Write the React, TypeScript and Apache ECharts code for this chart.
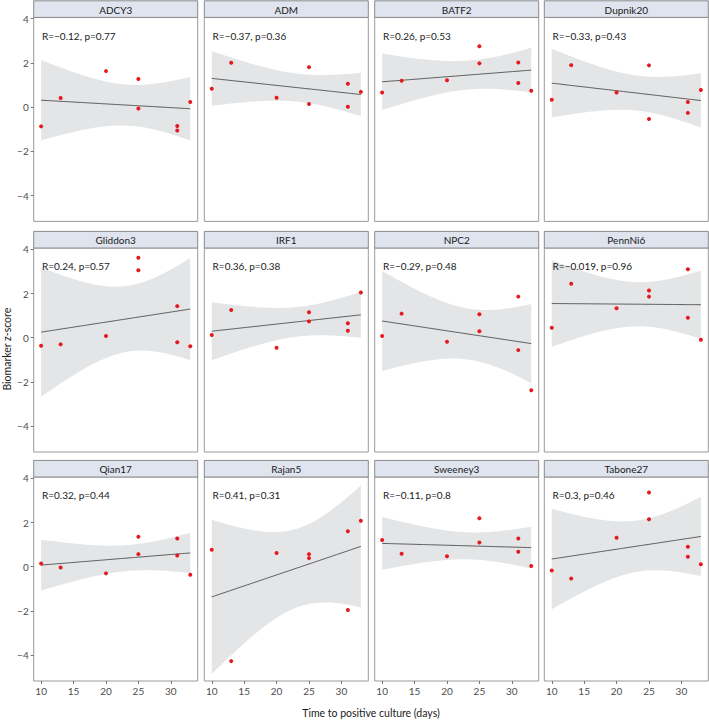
import React, { useEffect, useRef } from "react";
import * as echarts from "echarts";

const panelNames = ["ADCY3", "ADM", "BATF2", "Dupnik20", "Gliddon3", "IRF1", "NPC2", "PennNi6", "Qian17", "Rajan5", "Sweeney3", "Tabone27"];
const days = [10, 13, 20, 25, 25, 31, 31, 33];

const adcy3 = [-0.87, 0.41, 1.63, 1.27, -0.06, -0.85, -1.06, 0.23];
const adm = [0.83, 2.01, 0.42, 1.81, 0.14, 1.06, 0.02, 0.69];
const batf2 = [0.66, 1.19, 1.22, 2.75, 1.98, 2.02, 1.09, 0.74];
const dupnik20 = [0.33, 1.9, 0.66, 1.89, -0.54, 0.23, -0.26, 0.78];
const gliddon3 = [-0.36, -0.3, 0.08, 3.62, 3.05, 1.43, -0.2, -0.39];
const irf1 = [0.12, 1.25, -0.45, 1.15, 0.74, 0.66, 0.32, 2.05];
const npc2 = [0.08, 1.09, -0.18, 1.06, 0.29, 1.86, -0.56, -2.38];
const pennNi6 = [0.45, 2.44, 1.33, 2.14, 1.86, 3.1, 0.9, -0.09];
const qian17 = [0.15, -0.03, -0.3, 1.36, 0.57, 1.28, 0.51, -0.36];
const rajan5 = [0.77, -4.27, 0.62, 0.57, 0.39, 1.61, -1.96, 2.08];
const sweeney3 = [1.21, 0.59, 0.47, 2.19, 1.1, 1.28, 0.68, 0.03];
const tabone27 = [-0.17, -0.53, 1.31, 3.36, 2.15, 0.9, 0.45, 0.11];

const panelValues = [adcy3, adm, batf2, dupnik20, gliddon3, irf1, npc2, pennNi6, qian17, rajan5, sweeney3, tabone27];

const corrLabels = [
  "R=\u22120.12, p=0.77",
  "R=\u22120.37, p=0.36",
  "R=0.26, p=0.53",
  "R=\u22120.33, p=0.43",
  "R=0.24, p=0.57",
  "R=0.36, p=0.38",
  "R=\u22120.29, p=0.48",
  "R=\u22120.019, p=0.96",
  "R=0.32, p=0.44",
  "R=0.41, p=0.31",
  "R=\u22120.11, p=0.8",
  "R=0.3, p=0.46",
];

const yTicks = [-4, -2, 0, 2, 4];
const xTicks = [10, 15, 20, 25, 30];

// linear model fit with 95% confidence band (as geom_smooth(method = "lm"))
function lmFit(xs: number[], ys: number[]) {
  const n = xs.length;
  const mx = xs.reduce((a, b) => a + b, 0) / n;
  const my = ys.reduce((a, b) => a + b, 0) / n;
  let sxx = 0, sxy = 0;
  for (let i = 0; i < n; i++) {
    sxx += (xs[i] - mx) ** 2;
    sxy += (xs[i] - mx) * (ys[i] - my);
  }
  const b = sxy / sxx;
  const a = my - b * mx;
  let sse = 0;
  for (let i = 0; i < n; i++) sse += (ys[i] - a - b * xs[i]) ** 2;
  const s = Math.sqrt(sse / (n - 2));
  const t = 2.446912; // t(0.975, df = 6)
  const x0 = Math.min(...xs), x1 = Math.max(...xs);
  const upper: number[][] = [];
  const lower: number[][] = [];
  const line: number[][] = [];
  const steps = 80;
  for (let k = 0; k < steps; k++) {
    const x = x0 + ((x1 - x0) * k) / (steps - 1);
    const yh = a + b * x;
    const se = s * Math.sqrt(1 / n + (x - mx) ** 2 / sxx);
    upper.push([x, yh + t * se]);
    lower.push([x, yh - t * se]);
    line.push([x, yh]);
  }
  return { upper, lower, line };
}

const FONT = "Lato";
const colLefts = [33.7, 204.3, 374.7, 544.3];
const rowTops = [17.4, 248, 477];
const PW = 164;
const PH = 204;
const STRIP_H = 16.6;
const Y_MIN = -5.17;
const Y_MAX = 4.06;
const X_MIN = 8.85;
const X_MAX = 34.15;

const minus = (v: number) => String(v).replace("-", "\u2212");

export default function App() {
  const ref = useRef<HTMLDivElement>(null);
  useEffect(() => {
    if (!ref.current) return;
    const chart = echarts.init(ref.current, null, { renderer: "svg" });
    const grids: any[] = [];
    const xAxes: any[] = [];
    const yAxes: any[] = [];
    const series: any[] = [];
    const graphics: any[] = [];

    panelNames.forEach((name, i) => {
      const r = Math.floor(i / 4);
      const c = i % 4;
      const left = colLefts[c];
      const top = rowTops[r];
      grids.push({
        left, top, width: PW, height: PH,
        show: true, borderColor: "#9a9a9a", borderWidth: 1, backgroundColor: "#ffffff",
        containLabel: false,
      });
      const showX = r === 2;
      const showY = c === 0;
      xAxes.push({
        gridIndex: i, type: "value", min: X_MIN, max: X_MAX, position: "bottom",
        axisLine: { show: false, onZero: false },
        splitLine: { show: false },
        axisTick: { show: showX, length: 3, customValues: xTicks, lineStyle: { color: "#777" } },
        axisLabel: { show: showX, customValues: xTicks, margin: 5, fontFamily: FONT, fontSize: 10, color: "#4d4d4d" },
      });
      yAxes.push({
        gridIndex: i, type: "value", min: Y_MIN, max: Y_MAX, position: "left",
        axisLine: { show: false, onZero: false },
        splitLine: { show: false },
        axisTick: { show: showY, length: 3, customValues: yTicks, lineStyle: { color: "#777" } },
        axisLabel: {
          show: showY, customValues: yTicks, margin: 5, fontFamily: FONT, fontSize: 10, color: "#4d4d4d",
          formatter: (v: number) => minus(v),
        },
      });
      const vals = panelValues[i];
      const fit = lmFit(days, vals);
      series.push({
        type: "custom", xAxisIndex: i, yAxisIndex: i, silent: true, z: 1,
        data: [[days[0], vals[0]]],
        renderItem: (_p: any, api: any) => {
          const pts = fit.upper.map((p) => api.coord(p)).concat(fit.lower.slice().reverse().map((p) => api.coord(p)));
          return { type: "polygon", shape: { points: pts }, style: { fill: "#e4e5e7", stroke: "none" } };
        },
      });
      series.push({
        type: "line", xAxisIndex: i, yAxisIndex: i, silent: true, z: 2,
        data: fit.line, symbol: "none",
        lineStyle: { color: "#3a3a3a", width: 0.8 },
      });
      series.push({
        type: "scatter", xAxisIndex: i, yAxisIndex: i, silent: true, z: 3,
        data: days.map((d, j) => [d, vals[j]]),
        symbolSize: 4,
        itemStyle: { color: "#e41a1c", opacity: 1 },
      });
      graphics.push({
        type: "rect", silent: true, z: 10,
        shape: { x: left, y: top - STRIP_H, width: PW, height: STRIP_H },
        style: { fill: "#dfe4ef", stroke: "#8a8a8a", lineWidth: 1 },
      });
      graphics.push({
        type: "text", silent: true, z: 11,
        style: {
          text: name, x: left + PW / 2, y: top - STRIP_H / 2 + 0.5,
          align: "center", verticalAlign: "middle",
          fontFamily: FONT, fontSize: 10, fill: "#1a1a1a",
        },
      });
      graphics.push({
        type: "text", silent: true, z: 11,
        style: {
          text: corrLabels[i], x: left + 8.3, y: top + 18.3,
          align: "left", verticalAlign: "middle",
          fontFamily: FONT, fontSize: 10, fill: "#1a1a1a",
        },
      });
    });

    graphics.push({
      type: "text", silent: true,
      style: {
        text: "Time to positive culture (days)", x: (colLefts[0] + colLefts[3] + PW) / 2, y: 713,
        align: "center", verticalAlign: "middle",
        fontFamily: FONT, fontSize: 10.5, fill: "#1a1a1a",
      },
    });
    graphics.push({
      type: "text", silent: true,
      x: 6.5, y: (rowTops[0] + rowTops[2] + PH) / 2, rotation: Math.PI / 2,
      style: {
        text: "Biomarker z-score", x: 0, y: 0,
        align: "center", verticalAlign: "middle",
        fontFamily: FONT, fontSize: 10.5, fill: "#1a1a1a",
      },
    });

    chart.setOption({
      animation: false,
      backgroundColor: "#ffffff",
      grid: grids,
      xAxis: xAxes,
      yAxis: yAxes,
      series,
      graphic: graphics,
    });
    return () => chart.dispose();
  }, []);
  return <div ref={ref} style={{ position: "absolute", left: 0, top: 0, width: 709, height: 721 }} />;
}
